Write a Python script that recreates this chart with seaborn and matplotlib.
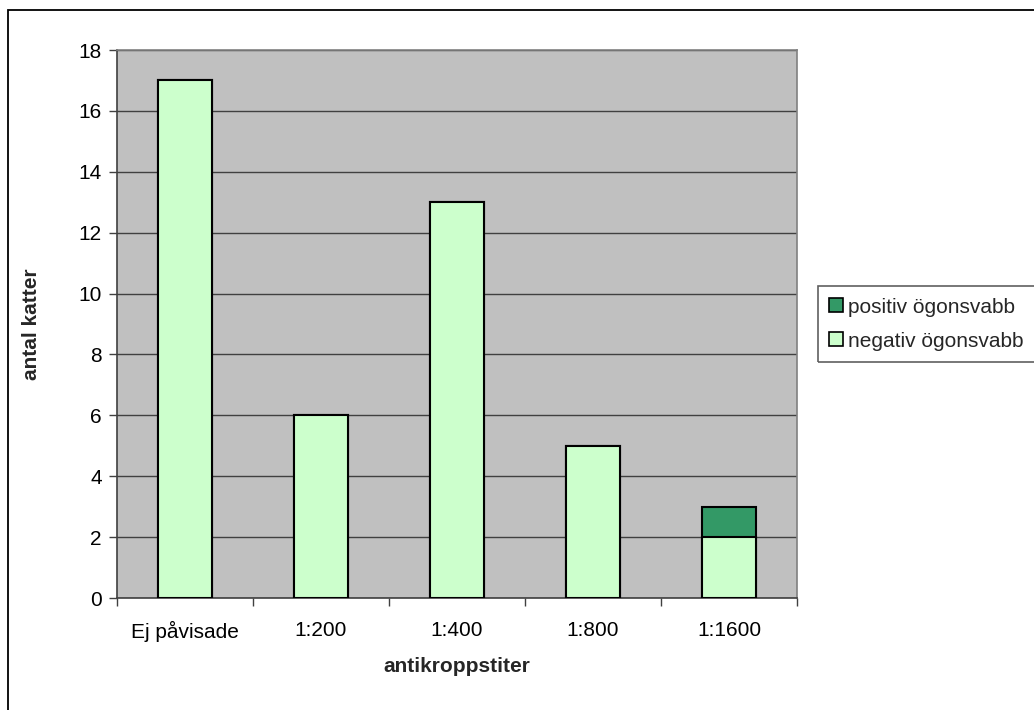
import matplotlib
matplotlib.use("Agg")
import matplotlib.pyplot as plt
from matplotlib.patches import Rectangle, Patch
import seaborn as sns
import pandas as pd

# Antibody titre categories and number of cats per eye-swab result
categories = ["Ej påvisade", "1:200", "1:400", "1:800", "1:1600"]
negativ = [17, 6, 13, 5, 2]
positiv = [0, 0, 0, 0, 1]
yticks = [0, 2, 4, 6, 8, 10, 12, 14, 16, 18]

neg_color = "#CCFFCC"
pos_color = "#339966"
plot_bg = "#C0C0C0"

sns.set_theme(style="white")
plt.rcParams["font.family"] = ["Liberation Sans", "DejaVu Sans"]

df = pd.DataFrame({
    "titer": categories,
    "negativ": negativ,
    "total": [n + p for n, p in zip(negativ, positiv)],
})

fig = plt.figure(figsize=(10.34, 7.10), dpi=100)
fig.patch.set_facecolor("white")
W, H = 1034, 710
ax = fig.add_axes([117 / W, 1 - 598 / H, 680 / W, 548 / H])
ax.set_facecolor(plot_bg)

# Stacked bars: total (positive on top) first, negative part drawn over it
sns.barplot(data=df, x="titer", y="total", order=categories, color=pos_color,
            width=0.4, edgecolor="black", linewidth=1.5, saturation=1,
            ax=ax, zorder=3)
sns.barplot(data=df, x="titer", y="negativ", order=categories, color=neg_color,
            width=0.4, edgecolor="black", linewidth=1.5, saturation=1,
            ax=ax, zorder=4)

ax.set_xlim(-0.5, len(categories) - 0.5)
ax.set_ylim(0, 18)
ax.set_yticks(yticks)
ax.yaxis.grid(True, color="#404040", linewidth=1.0, zorder=1)
ax.xaxis.grid(False)

# Ticks on category boundaries, labels centred on the categories
ax.set_xticks(range(len(categories)))
ax.set_xticklabels(categories)
ax.set_xticks([i - 0.5 for i in range(len(categories) + 1)], minor=True)
ax.tick_params(axis="x", which="major", length=0, pad=16.5, labelsize=15, colors="black")
ax.tick_params(axis="x", which="minor", length=6, width=1, color="#404040", bottom=True)
ax.tick_params(axis="y", which="major", length=6, width=1, color="#404040",
               left=True, pad=5, labelsize=15, colors="black")

for side in ["top", "right"]:
    ax.spines[side].set_color("#808080")
    ax.spines[side].set_linewidth(1.2)
for side in ["left", "bottom"]:
    ax.spines[side].set_color("#404040")
    ax.spines[side].set_linewidth(1.2)

ax.set_xlabel("antikroppstiter", fontsize=15, fontweight="bold", labelpad=11)
ax.set_ylabel("antal katter", fontsize=15, fontweight="bold", labelpad=27)

# Legend without its own frame; frame drawn as a separate box
handles = [Patch(facecolor=pos_color, edgecolor="black", linewidth=1.2, label="positiv ögonsvabb"),
           Patch(facecolor=neg_color, edgecolor="black", linewidth=1.2, label="negativ ögonsvabb")]
fig.legend(handles=handles, loc="center left", bbox_to_anchor=(821 / W, 1 - 324 / H),
           frameon=False, fontsize=15, handlelength=0.65, handleheight=0.65,
           handletextpad=0.25, labelspacing=0.72, borderaxespad=0)
fig.patches.append(Rectangle((818 / W, 1 - 362 / H), 300 / W, 76 / H,
                             transform=fig.transFigure, fill=False,
                             edgecolor="#606060", linewidth=1.2))

# Chart-area border
fig.patches.append(Rectangle((8 / W, -0.1), 1.2, 1.1 - 10 / H,
                             transform=fig.transFigure, fill=False,
                             edgecolor="black", linewidth=1.3))

fig.savefig("out.png", dpi=100)
